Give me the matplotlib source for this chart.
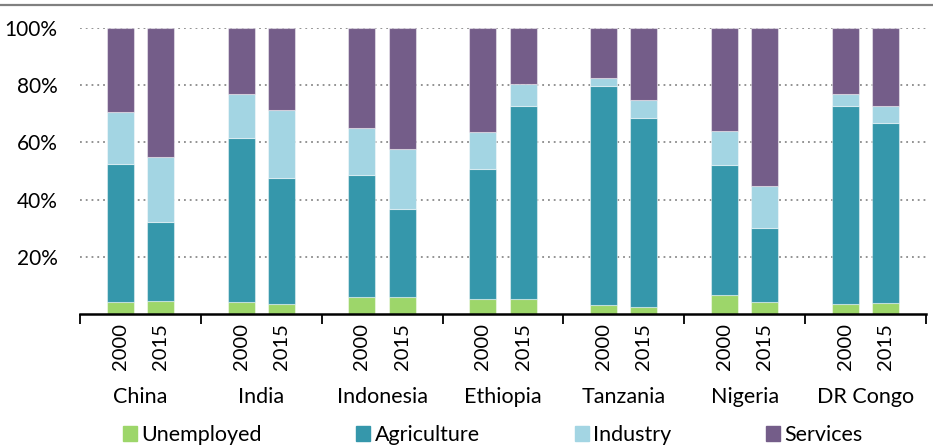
import matplotlib
matplotlib.use('Agg')
from matplotlib import pyplot as plt
from matplotlib.lines import Line2D
from matplotlib.patches import Patch
from matplotlib.ticker import FixedLocator, NullFormatter

plt.rcParams['font.family'] = ['Lato', 'DejaVu Sans']

# Employment shares (%)
countries = ["China", "India", "Indonesia", "Ethiopia", "Tanzania", "Nigeria", "DR Congo"]
years = ["2000", "2015"]

unemployed = [4.3, 4.5, 4.2, 3.5, 6.0, 5.9, 5.1, 5.2, 3.2, 2.4, 6.6, 4.2, 3.6, 3.7]
agriculture = [48.1, 27.6, 57.3, 44.1, 42.4, 30.7, 45.5, 67.5, 76.5, 65.9, 45.5, 25.9, 69.0, 63.0]
industry = [18.0, 22.6, 15.3, 23.5, 16.4, 21.0, 13.0, 7.7, 2.6, 6.3, 11.9, 14.6, 4.3, 5.9]
services = [29.6, 45.3, 23.2, 28.9, 35.2, 42.4, 36.4, 19.6, 17.7, 25.4, 36.0, 55.3, 23.1, 27.4]

series = [("Unemployed", unemployed, "#9dd66a"),
          ("Agriculture", agriculture, "#3597ab"),
          ("Industry", industry, "#a3d5e3"),
          ("Services", services, "#745d89")]

fig = plt.figure(figsize=(9.33, 4.48), dpi=100)
ax = fig.add_axes([0.0857, 0.299, 0.9068, 0.6392])

# two bars per country, 3 units per group
xpos = []
for i in range(len(countries)):
    xpos += [i * 3 + 1, i * 3 + 2]

bottom = [0.0] * len(xpos)
for name, vals, color in series:
    ax.bar(xpos, vals, width=0.67, bottom=bottom, color=color,
           edgecolor=(1, 1, 1, 0.45), linewidth=0.8, label=name, zorder=3)
    bottom = [b + v for b, v in zip(bottom, vals)]

ax.set_xlim(0, len(countries) * 3)
ax.set_ylim(0, 100)

# y axis
ax.set_yticks([20, 40, 60, 80, 100])
ax.set_yticklabels(["20%", "40%", "60%", "80%", "100%"])
ax.tick_params(axis='y', length=0, pad=16, labelsize=15)
ax.yaxis.grid(True, linestyle=(0, (1, 2.2)), color='#8a8a8a', linewidth=1.3, zorder=0)

# x axis: group separators as major ticks, years as minor tick labels
ax.xaxis.set_major_locator(FixedLocator([i * 3 for i in range(len(countries) + 1)]))
ax.xaxis.set_major_formatter(NullFormatter())
ax.xaxis.set_minor_locator(FixedLocator(xpos))
ax.set_xticklabels(years * len(countries), minor=True, rotation=90, fontsize=14.5)
ax.tick_params(axis='x', which='major', length=7, width=1.3, direction='out')
ax.tick_params(axis='x', which='minor', length=0, pad=6.5)

for side in ['top', 'right', 'left']:
    ax.spines[side].set_visible(False)
ax.spines['bottom'].set_linewidth(1.8)
ax.spines['bottom'].set_zorder(5)

for i, c in enumerate(countries):
    ax.text(i * 3 + 1.5, -0.29, c, transform=ax.get_xaxis_transform(),
            ha='center', va='center', fontsize=15.5)

handles = [Patch(color=color) for _, _, color in series]
fig.legend(handles, [s[0] for s in series], loc='center', bbox_to_anchor=(0.528, 0.029),
           ncol=4, frameon=False, fontsize=15.5, handlelength=0.65, handleheight=0.65,
           handletextpad=0.2, columnspacing=4.4, borderaxespad=0)

# grey rule at the top of the figure
fig.add_artist(Line2D([0, 1], [0.989, 0.989], transform=fig.transFigure,
                      color='#808080', linewidth=1.6))

fig.savefig("out.png", dpi=100)
